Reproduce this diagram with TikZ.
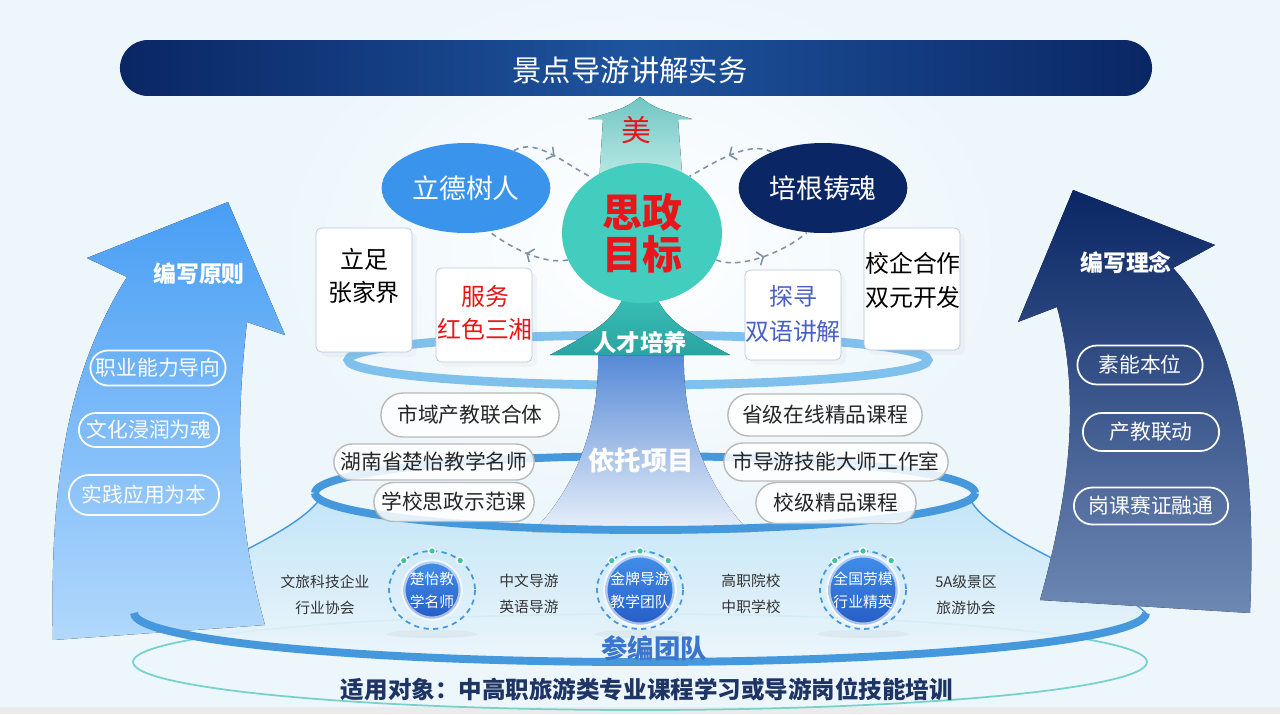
\documentclass[tikz,border=0pt]{standalone}
\usepackage{fontspec}
\setmainfont{Noto Sans CJK SC}
\usetikzlibrary{positioning, arrows.meta, calc, shapes.geometric, shapes.misc, decorations.markings, shadows}
\definecolor{bgc}{RGB}{236,246,251}
\definecolor{navyc}{RGB}{10,38,100}
\definecolor{barmid}{RGB}{30,84,158}
\definecolor{skyc}{RGB}{58,148,236}
\definecolor{tealc}{RGB}{66,205,190}
\definecolor{tealhd}{RGB}{112,198,194}
\definecolor{tealdk}{RGB}{42,164,162}
\definecolor{redc}{RGB}{232,22,27}
\definecolor{bluetx}{RGB}{74,96,196}
\definecolor{ringa}{RGB}{128,192,236}
\definecolor{ringb}{RGB}{70,152,220}
\definecolor{shaftc}{RGB}{44,108,204}
\definecolor{dashc}{RGB}{128,146,170}
\definecolor{dotc}{RGB}{56,196,156}
\definecolor{textc}{RGB}{51,51,51}
\definecolor{teamc}{RGB}{58,118,206}
\definecolor{footc}{RGB}{30,52,100}
\definecolor{pillc}{RGB}{186,186,186}
\definecolor{cardc}{RGB}{186,198,226}
\definecolor{leftc}{RGB}{72,158,244}
\definecolor{leftlt}{RGB}{178,216,252}
\definecolor{rightlt}{RGB}{110,136,180}
\definecolor{bowlc}{RGB}{192,228,247}
\definecolor{thinc}{RGB}{118,210,202}
\definecolor{medtop}{RGB}{66,142,234}
\definecolor{medbot}{RGB}{38,94,198}
\newcommand{\fsz}[2]{\fontsize{#1}{#2}\selectfont}

\begin{document}
\begin{tikzpicture}[x=0.02cm, y=-0.02cm,
  oval/.style={ellipse, minimum width=2.44cm, minimum height=1.8cm, text=white, font=\fsz{15.3}{18}},
  card/.style={draw=cardc, fill=white, rounded corners=3pt, minimum width=1.92cm, drop shadow={opacity=0.05}},
  cardtxt/.style={align=center, font=\fsz{13.6}{18.7}},
  pill/.style={rounded rectangle, draw=pillc, fill=white, fill opacity=0.85, text opacity=1, line width=0.8pt, text=black!85, font=\fsz{11.8}{14}},
  wpill/.style={rounded rectangle, draw=white, line width=1pt, text=white, font=\fsz{11.8}{14}},
  memb/.style={align=center, text=textc, font=\fsz{8.4}{14.7}},
  medal/.style={circle, minimum size=1.12cm, inner sep=0pt, top color=medtop, bottom color=medbot, draw=white, draw opacity=0.6, line width=2.5pt, text=white, align=center, font=\fsz{8.4}{13}},
  cyc/.style={dashc, dash pattern=on 3pt off 2.5pt, line width=0.9pt, postaction={decorate},
    decoration={markings, mark=at position 0.5 with {\arrow{Straight Barb[length=3pt, width=8pt]}}}}]
\useasboundingbox (0,0) rectangle (1280,714);
\fill[bgc] (0,0) rectangle (1280,714);
\fill[black!8] (0,707) rectangle (1280,714);
\shade[inner color=white, outer color=bgc] (640,250) ellipse [x radius=380, y radius=280];

\draw[thinc, line width=1pt] (640,662) ellipse [x radius=507, y radius=48];
\path[top color=bowlc, bottom color=bgc, fill opacity=0.9] (320,499) .. controls (290,540) and (170,578) .. (134,613)
  arc[start angle=180, end angle=0, x radius=506, y radius=49] .. controls (1110,578) and (990,540) .. (970,499)
  arc[start angle=10, end angle=170, x radius=330, y radius=37] -- cycle;
\draw[ringb, line width=0.8pt] (320,499) .. controls (290,540) and (170,578) .. (134,613);
\draw[ringb, line width=0.8pt] (970,499) .. controls (990,540) and (1110,578) .. (1146,613);

\fill[top color=leftc, bottom color=leftlt] (228,202) -- (285,335) -- (247,322) .. controls (236,420) and (235,520) .. (265,625)
  -- (53,640) .. controls (50,500) and (62,380) .. (127,277) -- (87,258) -- cycle;
\fill[top color=navyc, middle color=navyc!80!rightlt, bottom color=rightlt] (1073,190) -- (1215,245) -- (1173,268)
  .. controls (1230,330) and (1258,430) .. (1250,613) -- (1040,600) .. controls (1068,500) and (1082,400) .. (1057,307) -- (1018,322) -- cycle;
\node[text=white, font=\fsz{13}{15}\bfseries] (yuanze) at (199,274) {编写原则};
\node[wpill, minimum width=2.94cm, minimum height=0.7cm] (yz1) at (158,368) {职业能力导向};
\node[wpill, minimum width=3.04cm, minimum height=0.68cm] (yz2) at (149,430) {文化浸润为魂};
\node[wpill, minimum width=3.24cm, minimum height=0.8cm] (yz3) at (144,495) {实践应用为本};
\node[text=white, font=\fsz{13}{15}\bfseries] (linian) at (1126,263) {编写理念};
\node[wpill, minimum width=2.74cm, minimum height=0.78cm] (ln1) at (1140,365) {素能本位};
\node[wpill, minimum width=2.96cm, minimum height=0.76cm] (ln2) at (1151,432) {产教联动};
\node[wpill, minimum width=3.32cm, minimum height=0.74cm] (ln3) at (1151,506) {岗课赛证融通};

\draw[ringa, line width=5pt] (638,360) ellipse [x radius=290, y radius=25];
\draw[ringb, line width=4.5pt] (315,493) arc[start angle=180, end angle=360, x radius=330, y radius=37];

\node[card, minimum height=2.48cm] (k1) at (364,290) {};
\node[cardtxt] (k1t) at (364,276) {立足\\张家界};
\node[card, minimum height=1.88cm] (k2) at (484,315) {};
\node[cardtxt, text=redc] (k2t) at (485,313) {服务\\红色三湘};
\node[card, minimum height=1.8cm] (k3) at (793,315) {};
\node[cardtxt, text=bluetx, font=\fsz{13.6}{19.8}] (k3t) at (793,314) {探寻\\双语讲解};
\node[card, minimum height=2.44cm] (k4) at (912,289) {};
\node[cardtxt, font=\fsz{13.6}{19.3}] (k4t) at (913,280) {校企合作\\双元开发};

\fill[top color=tealhd, bottom color=white!75!tealc] (640,97) .. controls (625,108) .. (588,119) -- (603,119) -- (598,200)
  -- (684,200) -- (678,119) -- (692,119) .. controls (655,108) .. (640,97) -- cycle;
\fill[top color=white!20!shaftc, middle color=shaftc, bottom color=white!90!shaftc] (598,355) .. controls (600,440) and (565,500) .. (532,532)
  -- (750,532) .. controls (718,500) and (682,440) .. (684,355) -- cycle;
\fill[top color=tealc, bottom color=tealdk] (640,262) .. controls (615,320) .. (550,355) -- (730,355) .. controls (665,320) .. (640,262) -- cycle;

\node[oval, fill=skyc] (lide) at (466,188) {立德树人};
\node[oval, fill=navyc] (peigen) at (823,188) {培根铸魂};
\node[ellipse, minimum width=3.2cm, minimum height=2.8cm, fill=tealc, text=redc, align=center, font=\fsz{22.7}{23.8}\bfseries] (goal) at (642,233) {思政\\目标};
\draw[cyc] (lide.38) .. controls +(22,-14) and +(-25,-12) .. (goal.132);
\draw[cyc] (goal.200) .. controls +(-25,5) and +(20,15) .. (lide.-62);
\draw[cyc] (peigen.145) .. controls +(-22,-12) and +(25,-14) .. (goal.50);
\draw[cyc] (goal.-20) .. controls +(25,10) and +(-20,18) .. (peigen.-110);
\node[text=redc, font=\fsz{17}{20}] (mei) at (636,130) {美};
\node[text=white, font=\fsz{13.3}{15}\bfseries] (rencai) at (640,343) {人才培养};
\node[text=white, font=\fsz{15}{17}\bfseries] (yituo) at (641,460) {依托项目};

\draw[ringb, line width=4.5pt] (975,493) arc[start angle=0, end angle=180, x radius=330, y radius=37];
\node[pill, minimum width=3.8cm, minimum height=0.88cm] (xm1) at (470,415) {市域产教联合体};
\node[pill, minimum width=4.24cm, minimum height=0.72cm] (xm2) at (434,462) {湖南省楚怡教学名师};
\node[pill, minimum width=3.44cm, minimum height=0.78cm] (xm3) at (454,502) {学校思政示范课};
\node[pill, minimum width=4.12cm, minimum height=0.84cm] (xm4) at (825,415) {省级在线精品课程};
\node[pill, minimum width=4.32cm, minimum height=0.76cm] (xm5) at (836,462) {市导游技能大师工作室};
\node[pill, minimum width=3.44cm, minimum height=0.82cm] (xm6) at (836,503) {校级精品课程};

\draw[ringb, line width=4.5pt] (134,613) arc[start angle=180, end angle=0, x radius=506, y radius=49];

\node[medal] (m1) at (432,590) {楚怡教\\学名师};
\node[medal] (m2) at (640,590) {金牌导游\\教学团队};
\node[medal] (m3) at (863,590) {全国劳模\\行业精英};
\foreach \m in {m1, m2, m3} {
  \fill[black, opacity=0.04] ($(\m)+(0,44)$) ellipse [x radius=46, y radius=4];
  \draw[ringb, dash pattern=on 3pt off 2.5pt, line width=1pt] (\m) ellipse [x radius=43, y radius=39];
  \foreach \a in {-49,-90,-131}
    \fill[dotc, draw=white, line width=0.8pt] ($(\m)+(\a:43 and 39)$) circle (3.5);
}
\node[memb] (g1) at (325,595) {文旅科技企业\\行业协会};
\node[memb] (g2) at (529,594) {中文导游\\英语导游};
\node[memb] (g3) at (751,594) {高职院校\\中职学校};
\node[memb] (g4) at (966,595) {5A级景区\\旅游协会};
\node[text=teamc, font=\fsz{15}{17}\bfseries] (team) at (654,648) {参编团队};
\node[text=footc, font=\fsz{13.4}{15}\bfseries] (target) at (647,689) {适用对象：中高职旅游类专业课程学习或导游岗位技能培训};

\node[rounded rectangle, minimum width=20.88cm, minimum height=1.12cm, left color=navyc, right color=navyc, middle color=barmid] (bar) at (636,68) {};
\node[text=white, font=\fsz{16.7}{20}] (title) at (630,70) {景点导游讲解实务};
\end{tikzpicture}
\end{document}
